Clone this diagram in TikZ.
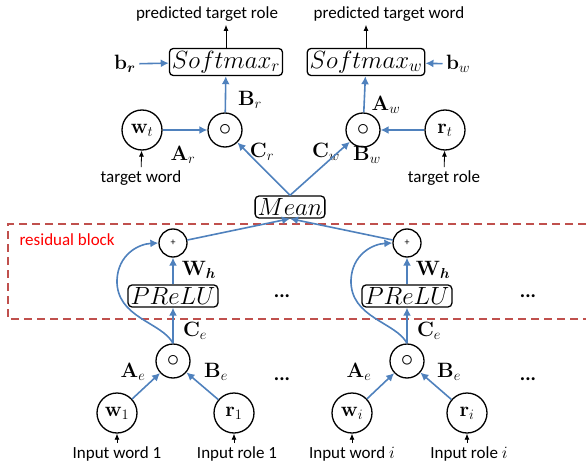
\documentclass[tikz,border=0pt]{standalone}
\usepackage[no-math]{fontspec}
\setmainfont{Carlito}
\usepackage{bm}
\usetikzlibrary{arrows.meta}
\definecolor{lineblue}{RGB}{79,129,189}
\definecolor{dashred}{RGB}{192,80,77}

\begin{document}
\begin{tikzpicture}[x=1pt, y=-1pt,
    blue arrow/.style={draw=lineblue, line width=1.6pt, -{Latex[length=8pt,width=8pt]}},
    black arrow/.style={draw=black, line width=0.8pt, -{Latex[length=6pt,width=5pt]}},
    unit/.style={shape=circle, draw=black, line width=1.3pt, inner sep=0pt, minimum size=40pt, font=\fontsize{20}{22}\selectfont},
    prod/.style={shape=circle, draw=black, line width=1.3pt, inner sep=0pt, minimum size=34pt, font=\fontsize{24}{26}\selectfont},
    sum/.style={shape=circle, draw=black, line width=1.3pt, inner sep=0pt, minimum size=28pt, font=\fontsize{10}{12}\selectfont},
    layer/.style={draw=black, line width=1.3pt, rounded corners=4pt, inner sep=2.5pt, font=\fontsize{23}{25}\selectfont},
    weight/.style={font=\fontsize{21}{23}\selectfont},
    caption/.style={font=\fontsize{17}{20}\selectfont},
    dots/.style={font=\fontsize{20}{22}\selectfont\bfseries}]

    \useasboundingbox (0,0) rectangle (586,468);

    % output side
    \node[caption] (outr) at (207,14) {predicted target role};
    \node[caption] (outw) at (389,14) {predicted target word};
    \node[layer] (smr) at (226,62) {$Softmax_r$};
    \node[layer] (smw) at (366,62) {$Softmax_w$};
    \node[weight] (br) at (125,64) {$\mathbf{b}_{\bm{r}}$};
    \node[weight] (bw) at (458,64) {$\mathbf{b}_w$};
    \node[prod] (pr) at (225,130) {$\circ$};
    \node[prod] (pw) at (363,130) {$\circ$};
    \node[unit] (wt) at (142,130) {$\mathbf{w}_t$};
    \node[unit] (rt) at (445,130) {$\mathbf{r}_t$};
    \node[caption] (tw) at (141,178) {target word};
    \node[caption] (tr) at (444,178) {target role};
    \node[layer] (mean) at (290,207) {$Mean$};

    \node[weight] (lBr) at (250,100) {$\mathbf{B}_r$};
    \node[weight] (lAr) at (183,155) {$\mathbf{A}_r$};
    \node[weight] (lCr) at (262,152) {$\mathbf{C}_r$};
    \node[weight] (lAw) at (386,105) {$\mathbf{A}_w$};
    \node[weight] (lBw) at (367,155) {$\mathbf{B}_w$};
    \node[weight] (lCw) at (326,152) {$\mathbf{C}_w$};

    % residual block
    \draw[dashred, line width=1.6pt, dash pattern=on 8pt off 5pt] (586,224) -| (8,319) -- (586,319);
    \node[caption, text=red, anchor=west] (res) at (16,240) {residual block};

    % first input pair
    \node[sum] (s1) at (173,243) {+};
    \node[layer] (h1) at (173,296) {$PReLU$};
    \node[prod] (p1) at (173,361) {$\circ$};
    \node[unit] (w1) at (117,413) {$\mathbf{w}_1$};
    \node[unit] (r1) at (234,413) {$\mathbf{r}_1$};
    \node[caption] (iw1) at (117,454) {Input word 1};
    \node[caption] (ir1) at (237,454) {Input role 1};
    \node[weight] (lW1) at (199,270) {$\mathbf{W}_{\bm{h}}$};
    \node[weight] (lC1) at (195,331) {$\mathbf{C}_e$};
    \node[weight] (lA1) at (133,372) {$\mathbf{A}_e$};
    \node[weight] (lB1) at (216,372) {$\mathbf{B}_e$};
    \node[dots] (d1) at (282,296) {...};
    \node[dots] (d2) at (282,379) {...};

    % i-th input pair
    \node[sum] (s2) at (407,243) {+};
    \node[layer] (h2) at (407,296) {$PReLU$};
    \node[prod] (p2) at (407,361) {$\circ$};
    \node[unit] (w2) at (352,413) {$\mathbf{w}_i$};
    \node[unit] (r2) at (467,413) {$\mathbf{r}_i$};
    \node[caption] (iw2) at (352,454) {Input word $i$};
    \node[caption] (ir2) at (469,454) {Input role $i$};
    \node[weight] (lW2) at (433,270) {$\mathbf{W}_{\bm{h}}$};
    \node[weight] (lC2) at (429,331) {$\mathbf{C}_e$};
    \node[weight] (lA2) at (359,372) {$\mathbf{A}_e$};
    \node[weight] (lB2) at (449,372) {$\mathbf{B}_e$};
    \node[dots] (d3) at (528,296) {...};
    \node[dots] (d4) at (528,379) {...};

    % connections
    \draw[black arrow] (smr.north) -- (smr.north |- outr.south);
    \draw[black arrow] (smw.north) -- (smw.north |- outw.south);
    \draw[blue arrow] (br) -- (smr);
    \draw[blue arrow] (bw) -- (smw);
    \draw[blue arrow] (pr) -- (smr);
    \draw[blue arrow] (pw) -- (smw);
    \draw[blue arrow] (wt) -- (pr);
    \draw[blue arrow] (rt) -- (pw);
    \draw[black arrow] (tw) -- (wt);
    \draw[black arrow] (tr) -- (rt);
    \draw[blue arrow] (mean.north) -- (pr);
    \draw[blue arrow] (mean.north) -- (pw);
    \draw[blue arrow] (s1) -- (mean.south);
    \draw[blue arrow] (s2) -- (mean.south);

    \draw[blue arrow] (h1) -- (s1);
    \draw[blue arrow] (p1) -- (h1);
    \draw[blue arrow] (w1) -- (p1);
    \draw[blue arrow] (r1) -- (p1);
    \draw[black arrow] (iw1) -- (w1);
    \draw[black arrow] (ir1.north -| r1) -- (r1);
    \draw[blue arrow] (p1.north) .. controls (162,322) and (116,318) .. (117,280) .. controls (118,255) and (138,244) .. (s1.west);

    \draw[blue arrow] (h2) -- (s2);
    \draw[blue arrow] (p2) -- (h2);
    \draw[blue arrow] (w2) -- (p2);
    \draw[blue arrow] (r2) -- (p2);
    \draw[black arrow] (iw2) -- (w2);
    \draw[black arrow] (ir2.north -| r2) -- (r2);
    \draw[blue arrow] (p2.north) .. controls (396,322) and (350,318) .. (351,280) .. controls (352,255) and (372,244) .. (s2.west);

\end{tikzpicture}
\end{document}
